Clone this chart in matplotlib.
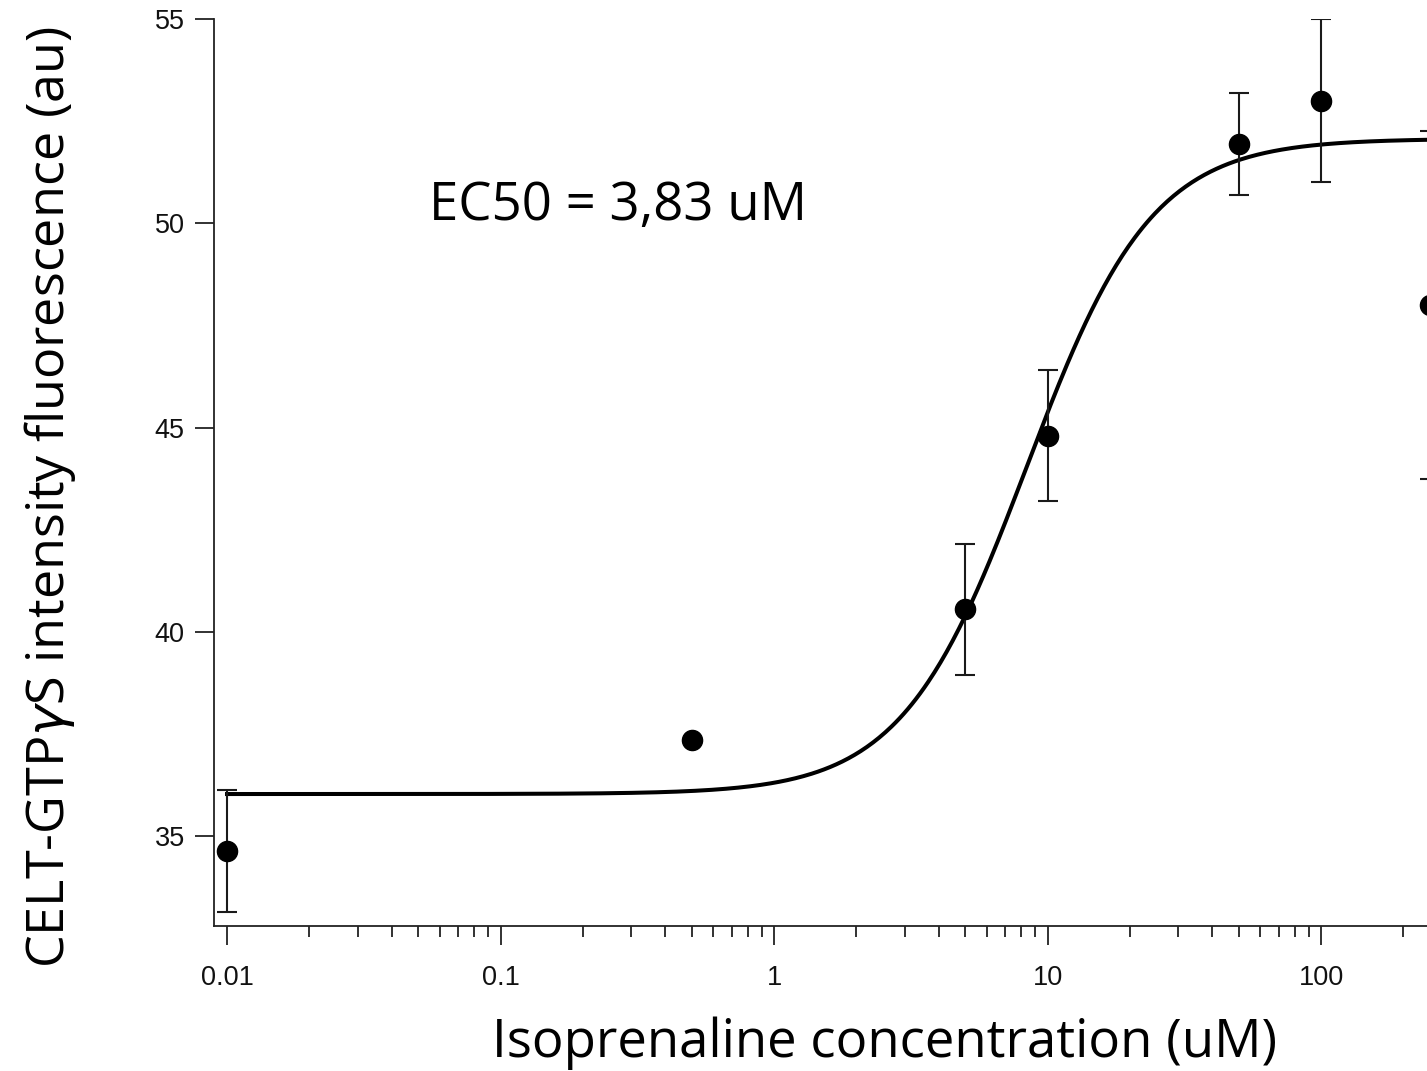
import numpy as np
import matplotlib
matplotlib.use("Agg")
import matplotlib.pyplot as plt
from matplotlib.ticker import FixedLocator, NullFormatter

# data
conc = [0.01, 0.5, 5, 10, 50, 100, 250]
signal = [34.63, 37.35, 40.55, 44.8, 51.95, 53.0, 48.0]
sem = [1.49, 0.0, 1.6, 1.6, 1.25, 2.0, 4.25]

# Hill fit parameters (fitted curve)
fit_bottom = 36.03
fit_top = 52.07
fit_ec = 8.4
fit_n = 1.9
fit_range = [0.01, 300]

yticks = [35, 40, 45, 50, 55]
xticks = [0.01, 0.1, 1, 10, 100]
xticklabels = ["0.01", "0.1", "1", "10", "100"]
xminor = [m * d for d in [0.01, 0.1, 1, 10, 100] for m in range(2, 10)]

W, H = 1427, 1071
fig = plt.figure(figsize=(W / 100, H / 100), dpi=100)
xmin, xmax = 0.00896, 300
ymin, ymax = 32.8, 55
left_px, bottom_px, top_px = 214, 926, 19
ppd = 273.5
width_px = (np.log10(xmax) - np.log10(xmin)) * ppd
ax = fig.add_axes([left_px / W, 1 - bottom_px / H, width_px / W, (bottom_px - top_px) / H])

xs = np.logspace(np.log10(fit_range[0]), np.log10(fit_range[1]), 600)
ys = fit_bottom + (fit_top - fit_bottom) / (1 + (fit_ec / xs) ** fit_n)
ax.plot(xs, ys, color="black", lw=2.9, zorder=3, clip_on=False)

ax.errorbar(conc, signal, yerr=sem, fmt="o", color="black", ms=14.5, ecolor="#1a1a1a",
            elinewidth=1.5, capsize=7.5, capthick=1.5, zorder=4)

ax.set_xscale("log")
ax.set_xlim(xmin, xmax)
ax.set_ylim(ymin, ymax)

for s in ["top", "right"]:
    ax.spines[s].set_visible(False)
for s in ["left", "bottom"]:
    ax.spines[s].set_linewidth(1.3)
    ax.spines[s].set_color("#222222")

ax.xaxis.set_major_locator(FixedLocator(xticks))
ax.set_xticklabels(xticklabels)
ax.xaxis.set_minor_locator(FixedLocator(xminor))
ax.xaxis.set_minor_formatter(NullFormatter())
ax.set_yticks(yticks)

ax.tick_params(axis="both", which="major", direction="out", length=14, width=1.3,
               color="#222222", labelsize=19.5)
ax.tick_params(axis="x", which="major", pad=14)
ax.tick_params(axis="y", which="major", pad=7)
ax.tick_params(axis="x", which="minor", direction="out", length=8, width=1.3, color="#222222")
for lab in ax.get_xticklabels() + ax.get_yticklabels():
    lab.set_fontfamily("Liberation Sans")
    lab.set_color("#111111")

lab_font = "Open Sans"
fig.text(885 / W, 1 - 1057 / H, "Isoprenaline concentration (uM)", fontsize=38,
         fontfamily=lab_font, ha="center", va="baseline")
fig.text(50 / W, 1 - 497 / H, r"CELT-GTP$\gamma$S intensity fluorescence (au)", fontsize=37.5,
         fontfamily=lab_font, ha="center", va="center", rotation=90)
ax.text(0.0548, 50.08, "EC50 = 3,83 uM", fontsize=38, fontfamily=lab_font, va="baseline")

fig.savefig("out.png", dpi=100)
